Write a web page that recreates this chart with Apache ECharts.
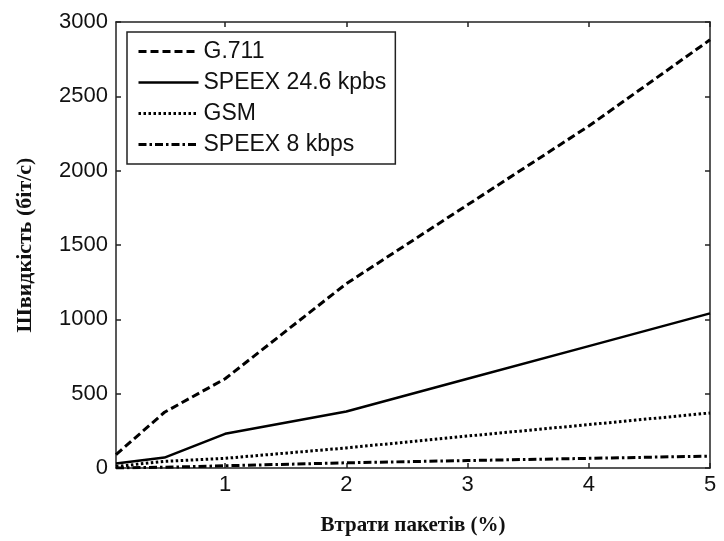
<!DOCTYPE html>
<html>
<head>
<meta charset="utf-8">
<script src="https://cdn.jsdelivr.net/npm/echarts@6/dist/echarts.min.js"></script>
<style>html,body{margin:0;padding:0;background:#fff}#c{width:724px;height:541px}</style>
</head>
<body>
<div id="c"></div>
<script>
const xValues = [0.1, 0.5, 1, 2, 3, 4, 5];
const seriesNames = ['G.711', 'SPEEX 24.6 kpbs', 'GSM', 'SPEEX 8 kbps'];
const g711 = [90, 375, 600, 1240, 1770, 2300, 2880];
const speex24 = [30, 70, 230, 380, 600, 820, 1040];
const gsm = [10, 45, 65, 135, 215, 292, 370];
const speex8 = [0, 5, 15, 35, 50, 65, 80];
const xTicks = [1, 2, 3, 4, 5];
const yTicks = [0, 500, 1000, 1500, 2000, 2500, 3000];
const xTitle = 'Втрати пакетів (%)';
const yTitle = 'Швидкість (біт/с)';

const pairs = arr => arr.map((v, i) => [xValues[i], v]);
const styles = [
  { type: [8, 4], width: 3 },
  { type: 'solid', width: 2.5 },
  { type: [2.5, 2.5], width: 3 },
  { type: [8, 3, 2.5, 3], width: 3 }
];
const datas = [g711, speex24, gsm, speex8];

const chart = echarts.init(document.getElementById('c'), null, { renderer: 'canvas' });
const font = 'Liberation Sans';
const axisLineStyle = { color: '#222', width: 1.5 };
chart.setOption({
  backgroundColor: '#fff',
  animation: false,
  grid: { left: 116, right: 14, top: 22, bottom: 73 },
  legend: {
    orient: 'vertical',
    left: 127, top: 32,
    padding: [8, 9, 8, 10],
    itemWidth: 60, itemHeight: 10, itemGap: 8,
    backgroundColor: '#fff',
    borderColor: '#222', borderWidth: 1.5, borderRadius: 0,
    itemStyle: { color: 'transparent', borderColor: 'transparent', borderWidth: 0, opacity: 0 },
    textStyle: { fontFamily: font, fontSize: 23, color: '#111', padding: [0, 0, 0, 0] },
    data: seriesNames.map((n, i) => ({
      name: n,
      itemStyle: { color: 'transparent', borderColor: 'transparent', borderWidth: 0, opacity: 0 },
      lineStyle: { color: '#000', type: styles[i].type, width: styles[i].width, cap: 'butt', opacity: 1 }
    }))
  },
  xAxis: [{
    type: 'value', min: 0.1, max: 5,
    name: xTitle, nameLocation: 'middle', nameGap: 47,
    nameTextStyle: { fontFamily: 'Liberation Serif', fontWeight: 'bold', fontSize: 21, color: '#111' },
    axisLine: { show: true, onZero: false, lineStyle: axisLineStyle },
    axisTick: { show: true, inside: true, length: 5, customValues: xTicks, lineStyle: axisLineStyle },
    axisLabel: { customValues: xTicks, fontFamily: font, fontSize: 22, color: '#111', margin: 6 },
    splitLine: { show: false }
  }, {
    type: 'value', min: 0.1, max: 5, position: 'top',
    axisLine: { show: true, onZero: false, lineStyle: axisLineStyle },
    axisTick: { show: true, inside: true, length: 5, customValues: xTicks, lineStyle: axisLineStyle },
    axisLabel: { show: false },
    splitLine: { show: false }
  }],
  yAxis: [{
    type: 'value', min: 0, max: 3000, interval: 500,
    name: yTitle, nameLocation: 'middle', nameGap: 80,
    nameTextStyle: { fontFamily: 'Liberation Serif', fontWeight: 'bold', fontSize: 22, color: '#111' },
    axisLine: { show: true, onZero: false, lineStyle: axisLineStyle },
    axisTick: { show: true, inside: true, length: 5, lineStyle: axisLineStyle },
    axisLabel: { customValues: yTicks, formatter: v => String(v), fontFamily: font, fontSize: 22, color: '#111', margin: 8 },
    splitLine: { show: false }
  }, {
    type: 'value', min: 0, max: 3000, interval: 500, position: 'right',
    axisLine: { show: true, onZero: false, lineStyle: axisLineStyle },
    axisTick: { show: true, inside: true, length: 5, lineStyle: axisLineStyle },
    axisLabel: { show: false },
    splitLine: { show: false }
  }],
  series: seriesNames.map((n, i) => ({
    name: n, type: 'line', xAxisIndex: 0, yAxisIndex: 0,
    data: pairs(datas[i]),
    symbol: 'none', showSymbol: false,
    lineStyle: { color: '#000', type: styles[i].type, width: styles[i].width, cap: 'butt' },
    itemStyle: { color: '#000' },
    z: 3
  }))
});
</script>
</body>
</html>
